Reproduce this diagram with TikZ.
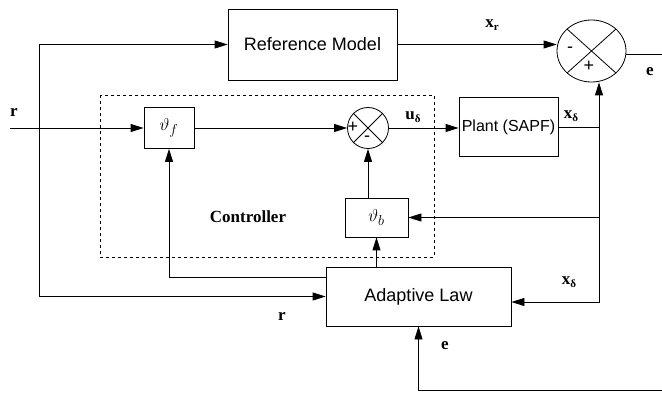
\documentclass[tikz,border=0pt]{standalone}
\usepackage{fontspec}
\setmainfont{Liberation Serif}
\setsansfont{Liberation Sans}
\usepackage{amsmath}
\usetikzlibrary{positioning, arrows.meta, shapes.geometric, calc}
\newcommand{\sbs}[1]{{\fontsize{11}{12}\selectfont\raisebox{-3pt}{#1}}}

\begin{document}
\begin{tikzpicture}[x=1pt,y=-1pt, line width=0.8pt,
		blk/.style={draw, inner sep=0pt, font=\sffamily\fontsize{18}{21}\selectfont},
		sumc/.style={draw, circle, inner sep=0pt, minimum size=41},
		lbl/.style={font=\bfseries\fontsize{17}{20}\selectfont, inner sep=0pt},
		sgn/.style={font=\sffamily\fontsize{18}{20}\selectfont, inner sep=0pt},
		arr/.style={-{Triangle[length=13pt,width=8pt]}}]
	\useasboundingbox (0,0) rectangle (662,393);
	% blocks
	\node[blk, minimum width=169, minimum height=71] (refm) at (312.5,44.5) {Reference Model};
	\node[blk, minimum width=50, minimum height=41, font=\fontsize{19}{22}\selectfont] (thf) at (169,128) {$\vartheta_f$};
	\node[sumc] (sumu) at (368,128) {};
	\node[blk, minimum width=99, minimum height=59, font=\sffamily\fontsize{16}{19}\selectfont] (plant) at (508.5,127) {Plant (SAPF)};
	\node[draw, ellipse, inner sep=0pt, minimum width=69, minimum height=62] (sume) at (591.5,51) {};
	\node[blk, minimum width=63, minimum height=39, font=\fontsize{19}{22}\selectfont] (thb) at (376.5,217.5) {$\vartheta_b$};
	\node[blk, minimum width=185, minimum height=59] (adapt) at (418.5,296.5) {Adaptive Law};
	\draw[dashed] (100,95) rectangle (434,257);
	\node[lbl] (ctrl) at (248,217) {Controller};
	% crosses
	\foreach \s in {sumu, sume} {
		\draw (\s.north west) -- (\s.south east);
		\draw (\s.north east) -- (\s.south west);
	}
	\node[sgn] (p1) at (353,127) {+};
	\node[sgn] (m1) at (367,139) {-};
	\node[sgn] (m2) at (570,50) {-};
	\node[sgn] (p2) at (589,66) {+};
	% coordinates
	\coordinate (rin) at (10,128);
	\coordinate (rtap) at (39,128);
	\coordinate (xbr) at (599,127);
	\coordinate (xlow) at (599,302);
	\coordinate (fb) at (169,277);
	\coordinate (eout) at (662,0);
	\coordinate (ebot) at (662,390);
	% connectors
	\draw[arr] (rin) -- (thf);
	\draw[arr] (rtap) |- (refm.west);
	\draw[arr] (rtap) |- (adapt.west);
	\draw[arr] (thf) -- (sumu);
	\draw[arr] (sumu.east) -- (sumu.east -| plant.west);
	\draw (plant.east) -- (xbr);
	\draw[arr] (xbr) -- (xbr |- sume.south);
	\draw[arr] (xbr) -- (xlow) -- (adapt.east |- xlow);
	\draw[arr] (xbr |- thb) -- (thb.east);
	\draw[arr] (thb.north -| sumu) -- (sumu.south);
	\draw[arr] (adapt.north -| thb) -- (thb.south);
	\draw[arr] (adapt.west |- fb) -- (fb) -- (thf.south);
	\draw[arr] (refm.east) -- (refm.east -| sume.west);
	\draw (sume.-5) -- (sume.-5 -| eout);
	\draw[arr] (ebot) -| (adapt.south);
	% labels
	\node[lbl] (lr1) at (14,112) {r};
	\node[lbl] (lr2) at (282,316) {r};
	\node[lbl] (lxr) at (492,25) {x\sbs{r}};
	\node[lbl] (le1) at (650,72) {e};
	\node[lbl] (lu) at (413,117) {u\sbs{δ}};
	\node[lbl] (lx1) at (571,116) {x\sbs{δ}};
	\node[lbl] (lx2) at (569,282) {x\sbs{δ}};
	\node[lbl] (le2) at (445,346) {e};
\end{tikzpicture}
\end{document}
